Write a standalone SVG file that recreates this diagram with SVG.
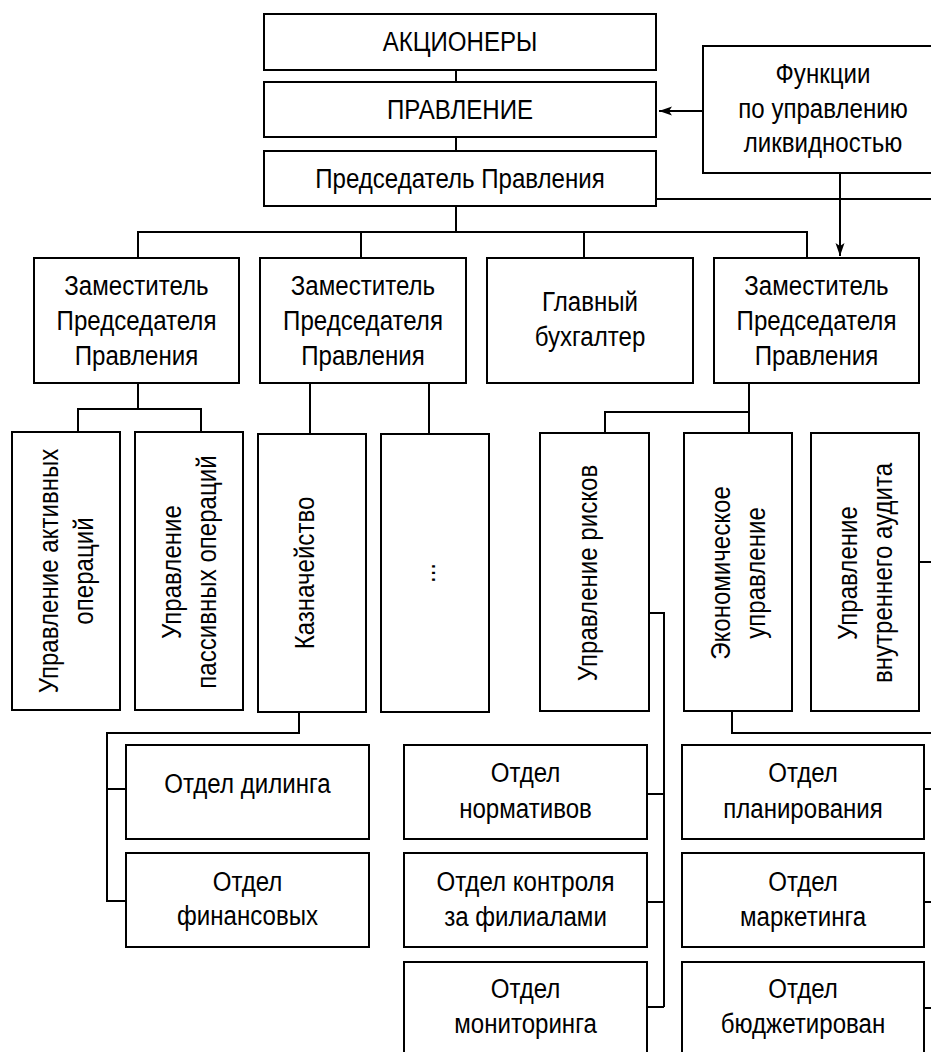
<svg xmlns="http://www.w3.org/2000/svg" width="931" height="1052" viewBox="0 0 931 1052">
<style>
.b{fill:#fff;stroke:#000;stroke-width:2}
.c{fill:none;stroke:#000;stroke-width:2}
text{font-family:"Liberation Sans",Arial,sans-serif;font-size:28px;fill:#000;text-anchor:middle}
</style>
<defs>
<marker id="ah" markerUnits="userSpaceOnUse" markerWidth="14" markerHeight="10" refX="13" refY="4.5" orient="auto">
<path d="M0,0 L13,4.5 L0,9 L3,4.5 z" fill="#000"/>
</marker>
</defs>
<rect width="931" height="1052" fill="#fff"/>
<g id="connectors">
<path class="c" d="M456,70 V82 M456,137 V151 M456,206 V232"/>
<path class="c" d="M138,258 V232 H807 V258 M361,232 V258 M584,232 V258"/>
<path class="c" d="M703,111 H659" marker-end="url(#ah)"/>
<path class="c" d="M656,199 H931"/>
<path class="c" d="M840,173 V256" marker-end="url(#ah)"/>
<path class="c" d="M138,383 V409 M78,432 V409 H201 V432"/>
<path class="c" d="M310,383 V434 M429,383 V434"/>
<path class="c" d="M749,383 V433 M605,433 V412 H749"/>
<path class="c" d="M649,613 H664 V1007 M647,794 H664 M647,902 H664 M647,1007 H664"/>
<path class="c" d="M299,712 V733 H107 V901 H126 M107,789 H126"/>
<path class="c" d="M732,711 V733 H931"/>
<path class="c" d="M919,562 H931"/>
<path class="c" d="M924,789 H931 M924,902 H931 M924,1008 H931"/>
</g>
<g id="n-akc"><rect class="b" x="264" y="14" width="392" height="56"/><text transform="translate(460,0) scale(0.86,1)" x="0" y="51">АКЦИОНЕРЫ</text></g>
<g id="n-pravl"><rect class="b" x="264" y="82" width="392" height="55"/><text transform="translate(460,0) scale(0.86,1)" x="0" y="119">ПРАВЛЕНИЕ</text></g>
<g id="n-pred"><rect class="b" x="264" y="151" width="392" height="55"/><text transform="translate(460,0) scale(0.86,1)" x="0" y="188">Председатель Правления</text></g>
<g id="n-func"><rect class="b" x="703" y="46" width="240" height="127"/><text transform="translate(823,0) scale(0.86,1)" x="0" y="83">Функции<tspan x="0" y="118">по управлению</tspan><tspan x="0" y="152">ликвидностью</tspan></text></g>
<g id="n-zam1"><rect class="b" x="34" y="258" width="205" height="125"/><text transform="translate(136.5,0) scale(0.86,1)" x="0" y="295">Заместитель<tspan x="0" y="330">Председателя</tspan><tspan x="0" y="365">Правления</tspan></text></g>
<g id="n-zam2"><rect class="b" x="260" y="258" width="206" height="125"/><text transform="translate(363,0) scale(0.86,1)" x="0" y="295">Заместитель<tspan x="0" y="330">Председателя</tspan><tspan x="0" y="365">Правления</tspan></text></g>
<g id="n-glav"><rect class="b" x="487" y="258" width="206" height="125"/><text transform="translate(590,0) scale(0.86,1)" x="0" y="311">Главный<tspan x="0" y="346">бухгалтер</tspan></text></g>
<g id="n-zam4"><rect class="b" x="714" y="258" width="205" height="125"/><text transform="translate(816.5,0) scale(0.86,1)" x="0" y="295">Заместитель<tspan x="0" y="330">Председателя</tspan><tspan x="0" y="365">Правления</tspan></text></g>
<g id="n-akt"><rect class="b" x="12" y="432" width="108" height="278"/><text transform="translate(66,571) rotate(-90) scale(0.86,1)"><tspan x="0" y="-8">Управление активных</tspan><tspan x="0" y="27">операций</tspan></text></g>
<g id="n-pas"><rect class="b" x="135" y="432" width="108" height="278"/><text transform="translate(189,572) rotate(-90) scale(0.86,1)"><tspan x="0" y="-8">Управление</tspan><tspan x="0" y="27">пассивных операций</tspan></text></g>
<g id="n-kazn"><rect class="b" x="258" y="434" width="108" height="278"/><text transform="translate(312,573) rotate(-90) scale(0.86,1)" x="0" y="2">Казначейство</text></g>
<g id="n-dots"><rect class="b" x="381" y="434" width="108" height="278"/><text transform="translate(435,573) rotate(-90) scale(0.86,1)" x="0" y="0">...</text></g>
<g id="n-risk"><rect class="b" x="540" y="433" width="109" height="278"/><text transform="translate(594.5,573) rotate(-90) scale(0.86,1)" x="0" y="2">Управление рисков</text></g>
<g id="n-econ"><rect class="b" x="684" y="433" width="108" height="278"/><text transform="translate(738,573) rotate(-90) scale(0.86,1)"><tspan x="0" y="-8">Экономическое</tspan><tspan x="0" y="27">управление</tspan></text></g>
<g id="n-audit"><rect class="b" x="811" y="433" width="108" height="278"/><text transform="translate(865,573) rotate(-90) scale(0.86,1)"><tspan x="0" y="-8">Управление</tspan><tspan x="0" y="27">внутреннего аудита</tspan></text></g>
<g id="n-dil"><rect class="b" x="126" y="745" width="243" height="94"/><text transform="translate(247.5,0) scale(0.86,1)" x="0" y="793">Отдел дилинга</text></g>
<g id="n-fin"><rect class="b" x="126" y="853" width="243" height="94"/><text transform="translate(247.5,0) scale(0.86,1)" x="0" y="891">Отдел<tspan x="0" y="925">финансовых</tspan></text></g>
<g id="n-norm"><rect class="b" x="404" y="745" width="243" height="94"/><text transform="translate(525.5,0) scale(0.86,1)" x="0" y="782">Отдел<tspan x="0" y="818">нормативов</tspan></text></g>
<g id="n-kontr"><rect class="b" x="404" y="853" width="243" height="94"/><text transform="translate(525.5,0) scale(0.86,1)" x="0" y="891">Отдел контроля<tspan x="0" y="926">за филиалами</tspan></text></g>
<g id="n-monit"><rect class="b" x="404" y="962" width="243" height="100"/><text transform="translate(525.5,0) scale(0.86,1)" x="0" y="998">Отдел<tspan x="0" y="1033">мониторинга</tspan></text></g>
<g id="n-plan"><rect class="b" x="682" y="745" width="242" height="94"/><text transform="translate(803,0) scale(0.86,1)" x="0" y="782">Отдел<tspan x="0" y="818">планирования</tspan></text></g>
<g id="n-mark"><rect class="b" x="682" y="853" width="242" height="94"/><text transform="translate(803,0) scale(0.86,1)" x="0" y="891">Отдел<tspan x="0" y="926">маркетинга</tspan></text></g>
<g id="n-budg"><rect class="b" x="682" y="962" width="242" height="100"/><text transform="translate(803,0) scale(0.86,1)" x="0" y="998">Отдел<tspan x="0" y="1033">бюджетирован</tspan></text></g>
</svg>
